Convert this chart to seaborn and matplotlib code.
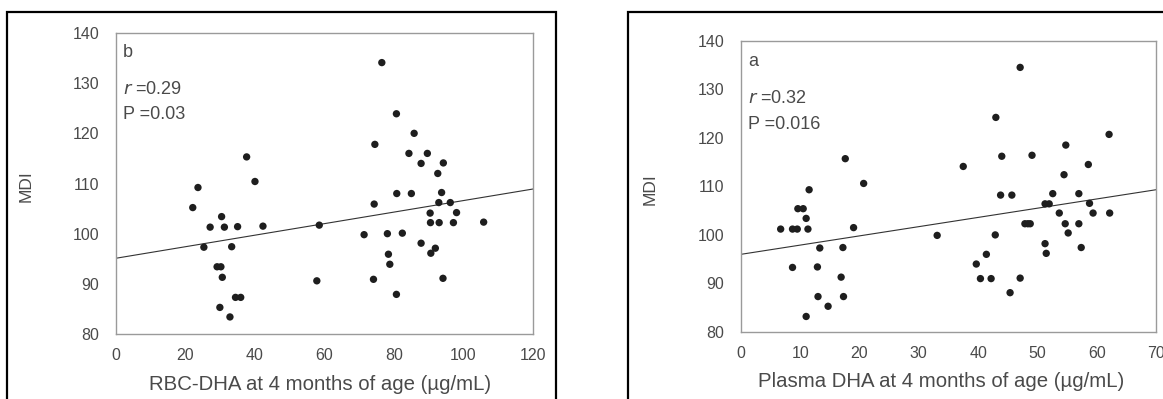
import matplotlib
matplotlib.use("Agg")
import matplotlib.pyplot as plt
from matplotlib.patches import Rectangle
import numpy as np
import pandas as pd
import seaborn as sns

# Panel b: RBC-DHA vs MDI
rbc_dha = [22.1, 23.6, 25.3, 27.1, 30.4, 29.1, 30.2, 30.6, 29.9, 31.2,
           32.8, 33.3, 34.4, 35.9, 35.0, 37.6, 40.0, 42.3, 58.5, 57.8,
           71.4, 74.1, 74.3, 74.5, 76.5, 78.1, 78.4, 78.8, 80.7, 80.8,
           80.7, 82.4, 84.3, 85.0, 85.8, 87.8, 87.8, 89.6, 90.4, 90.5,
           90.6, 91.9, 92.6, 92.9, 93.0, 93.7, 94.2, 94.1, 96.2, 97.1,
           98.0, 105.8]
rbc_mdi = [105.2, 109.2, 97.3, 101.3, 103.4, 93.4, 93.4, 91.3, 85.3, 101.3,
           83.4, 97.4, 87.3, 87.3, 101.4, 115.3, 110.4, 101.5, 101.7, 90.6,
           99.8, 90.9, 105.9, 117.8, 134.1, 100.0, 95.9, 93.9, 123.9, 108.0,
           87.9, 100.1, 116.0, 108.0, 120.0, 114.0, 98.1, 116.0, 104.1, 102.2,
           96.1, 97.1, 112.0, 106.2, 102.2, 108.2, 114.1, 91.1, 106.2, 102.2,
           104.2, 102.3]
rbc_fit = (95.1, 0.115)  # intercept, slope

# Panel a: plasma DHA vs MDI
plasma_dha = [6.7, 8.7, 8.7, 9.5, 9.6, 10.5, 11.0, 11.0, 11.3, 11.5,
              12.9, 13.0, 13.3, 14.7, 16.9, 17.3, 17.2, 17.6, 19.0, 20.7,
              33.1, 37.5, 39.7, 40.4, 41.4, 42.2, 42.9, 43.0, 43.8, 44.0,
              45.4, 45.7, 47.1, 47.1, 47.9, 48.4, 48.8, 49.1, 51.3, 51.5,
              51.3, 52.0, 52.6, 53.7, 54.5, 54.7, 54.8, 55.2, 57.0, 57.0,
              57.4, 58.6, 58.8, 59.4, 62.1, 62.2]
plasma_mdi = [101.2, 101.2, 93.3, 101.2, 105.4, 105.4, 103.4, 83.2, 101.2, 109.3,
              93.4, 87.3, 97.3, 85.3, 91.3, 87.3, 97.4, 115.7, 101.5, 110.6,
              99.9, 114.1, 94.0, 91.0, 96.0, 91.0, 100.0, 124.2, 108.2, 116.2,
              88.1, 108.2, 134.5, 91.1, 102.3, 102.3, 102.3, 116.4, 98.2, 96.2,
              106.4, 106.4, 108.5, 104.5, 112.4, 102.3, 118.5, 100.4, 108.5, 102.3,
              97.4, 114.5, 106.5, 104.5, 120.7, 104.5]
plasma_fit = (96.0, 0.19)

y_ticks = [80, 90, 100, 110, 120, 130, 140]

sns.set_theme(style="white")
plt.rcParams["font.family"] = ["Liberation Sans", "DejaVu Sans"]

fig = plt.figure(figsize=(11.63, 3.99), dpi=100)

# outer boxes around each panel
fig.patches.append(Rectangle((0.006, -0.1), 0.472, 1.07, transform=fig.transFigure,
                             fill=False, edgecolor="black", linewidth=1.6))
fig.patches.append(Rectangle((0.540, -0.1), 0.5, 1.07, transform=fig.transFigure,
                             fill=False, edgecolor="black", linewidth=1.6))

ax_b = fig.add_axes([0.0997, 0.1629, 0.3586, 0.7544])
ax_a = fig.add_axes([0.6371, 0.1679, 0.3568, 0.7301])

text_col = "#4a4a4a"
spine_col = "#9a9a9a"


def draw_panel(ax, x, y, fit, xmax, xticks, xlabel, tag, r_txt, p_txt, ypos,
               ylab_x, xlab_pos):
    df = pd.DataFrame({"x": x, "y": y})
    sns.scatterplot(data=df, x="x", y="y", ax=ax, color="#1e1e1e", s=28,
                    edgecolor="none", linewidth=0, zorder=3)
    xs = np.array([0, xmax])
    ax.plot(xs, fit[0] + fit[1] * xs, color="#333333", linewidth=0.8, zorder=2)
    ax.set_xlim(0, xmax)
    ax.set_ylim(80, 140)
    ax.set_xticks(xticks)
    ax.set_yticks(y_ticks)
    ax.set_xlabel(xlabel, fontsize=14.7, color=text_col)
    ax.set_ylabel("MDI", fontsize=12.5, color=text_col)
    ax.yaxis.set_label_coords(ylab_x, 0.49)
    ax.xaxis.set_label_coords(*xlab_pos)
    for s in ax.spines.values():
        s.set_color(spine_col)
        s.set_linewidth(1.0)
    ax.tick_params(axis="y", direction="out", length=4, width=0.8,
                   color=spine_col, labelsize=11.5, labelcolor=text_col, pad=8)
    ax.tick_params(axis="x", direction="in", length=3, width=0.8,
                   color=spine_col, labelsize=11.5, labelcolor=text_col, pad=10)
    ax.text(0.017, ypos[0], tag, transform=ax.transAxes, fontsize=13,
            color=text_col, va="center")
    ax.text(0.017, ypos[1], r"$\it{r}$ =" + r_txt, transform=ax.transAxes,
            fontsize=13, color=text_col, va="center")
    ax.text(0.017, ypos[2], "P =" + p_txt, transform=ax.transAxes,
            fontsize=13, color=text_col, va="center")


draw_panel(ax_b, rbc_dha, rbc_mdi, rbc_fit, 120, [0, 20, 40, 60, 80, 100, 120],
           "RBC-DHA at 4 months of age (\u00b5g/mL)", "b", "0.29", "0.03",
           (0.934, 0.811, 0.728), -0.197, (0.489, -0.136))
draw_panel(ax_a, plasma_dha, plasma_mdi, plasma_fit, 70, [0, 10, 20, 30, 40, 50, 60, 70],
           "Plasma DHA at 4 months of age (\u00b5g/mL)", "a", "0.32", "0.016",
           (0.927, 0.8, 0.714), -0.2, (0.482, -0.137))

fig.savefig("out.png", dpi=100)
